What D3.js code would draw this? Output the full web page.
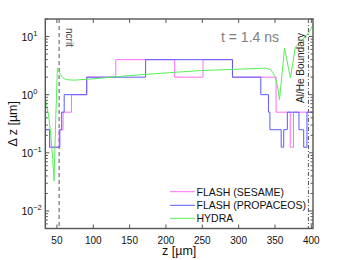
<!DOCTYPE html>
<html lang="en">
<head>
<meta charset="UTF-8">
<title>Delta z</title>
<script src="https://d3js.org/d3.v7.min.js"></script>
<style>
  body { margin: 0; background: #fff; }
  svg text { font-family: "Liberation Sans", Arial, sans-serif; }
</style>
</head>
<body>
<svg id="chart" width="346" height="260"></svg>
<script>
// tick values
var zTicks = [50, 100, 150, 200, 250, 300, 350, 400];
var dzTicks = [0.01, 0.1, 1, 10];
var dzTickExp = ["\u22122", "\u22121", "0", "1"];

// FLASH (SESAME) - step data, value holds until next z
var sesameZ  = [34, 40, 53, 58.5, 70, 91, 131, 212, 251, 291.5, 351.5, 371, 375.5, 402];
var sesameDz = [0.25, 0.125, 0.25, 0.5, 1, 2, 4, 2, 4, 2, 0.5, 0.125, 0.5, 0.5];

// FLASH (PROPACEOS)
var propZ  = [34, 40, 54, 56.5, 60, 91, 172, 291.5, 330.5, 341, 343, 358.5, 362, 367, 383, 389.5, 394, 402];
var propDz = [0.25, 0.125, 0.25, 0.5, 1, 2, 4, 2, 1, 0.5, 0.25, 0.125, 0.25, 0.5, 0.25, 0.125, 0.5, 0.5];

// HYDRA
var hydraZ  = [34, 36, 38.7, 41.5, 44.2, 46, 48.3, 50.7, 52, 53.5, 55.2, 57.5, 60, 65, 74.5, 95, 150, 205, 246.5, 301.5, 337.3, 344.2, 349.7, 353.1, 356.2, 363.1, 371.3, 377.9, 396.5, 402];
var hydraDz = [0.86, 0.65, 0.42, 0.21, 0.077, 0.033, 0.37, 2.88, 2.65, 2.4, 2.2, 2.0, 1.88, 1.8, 1.78, 1.85, 2.13, 2.39, 2.59, 2.75, 2.86, 2.69, 2.13, 1.49, 0.82, 6.3, 1.93, 6.5, 11.6, 15.9];

var series = [
  {name: "FLASH (SESAME)", z: sesameZ, dz: sesameDz, color: "#ff6dff", step: true},
  {name: "FLASH (PROPACEOS)", z: propZ, dz: propDz, color: "#5b5bff", step: true},
  {name: "HYDRA", z: hydraZ, dz: hydraDz, color: "#55ee55", step: false}
];

var ncritZ = 53, boundaryZ = 396;

var svg = d3.select("#chart");
var L = 45.3, R = 313, T = 19, B = 228.5;

var x = d3.scaleLinear().domain([34, 402.3]).range([L, R]);
var y = d3.scaleLog().domain([0.005, 20]).range([B, T]);

svg.append("clipPath").attr("id", "clip")
  .append("rect").attr("x", L).attr("y", T).attr("width", R - L).attr("height", B - T);

var plot = svg.append("g").attr("clip-path", "url(#clip)");

// reference lines
plot.append("line")
  .attr("x1", x(ncritZ)).attr("x2", x(ncritZ)).attr("y1", T).attr("y2", B)
  .attr("stroke", "#555").attr("stroke-width", 1).attr("stroke-dasharray", "4,3");
plot.append("line")
  .attr("x1", x(boundaryZ)).attr("x2", x(boundaryZ)).attr("y1", T).attr("y2", B)
  .attr("stroke", "#555").attr("stroke-width", 1).attr("stroke-dasharray", "4,2,1,2");

// curves
series.forEach(function(s) {
  var pts = s.z.map(function(z, i) { return [z, s.dz[i]]; });
  var line = d3.line()
    .x(function(d) { return x(d[0]); })
    .y(function(d) { return y(d[1]); })
    .curve(s.step ? d3.curveStepAfter : d3.curveLinear);
  plot.append("path").datum(pts)
    .attr("d", line)
    .attr("fill", "none")
    .attr("stroke", s.color)
    .attr("stroke-width", 1);
});

// axes box and ticks (matlab style, inward)
var axisColor = "#555";
var ax = svg.append("g");
ax.append("rect").attr("x", L).attr("y", T).attr("width", R - L).attr("height", B - T)
  .attr("fill", "none").attr("stroke", axisColor).attr("stroke-width", 1.4);

zTicks.forEach(function(t) {
  var px = x(t);
  ax.append("line").attr("x1", px).attr("x2", px).attr("y1", B).attr("y2", B - 4)
    .attr("stroke", axisColor);
  ax.append("line").attr("x1", px).attr("x2", px).attr("y1", T).attr("y2", T + 4)
    .attr("stroke", axisColor);
  ax.append("text").attr("x", px).attr("y", 243.5)
    .attr("text-anchor", "middle").attr("font-size", 10).attr("fill", "#111")
    .text(t);
});

// minor log ticks
var minor = [];
[0.001, 0.01, 0.1, 1, 10].forEach(function(dec) {
  for (var k = 2; k <= 9; k++) {
    var v = dec * k;
    if (v >= 0.005 && v <= 20) minor.push(v);
  }
});
minor.forEach(function(v) {
  var py = y(v);
  ax.append("line").attr("x1", L).attr("x2", L + 2.5).attr("y1", py).attr("y2", py).attr("stroke", axisColor);
  ax.append("line").attr("x1", R).attr("x2", R - 2.5).attr("y1", py).attr("y2", py).attr("stroke", axisColor);
});

dzTicks.forEach(function(v, i) {
  var py = y(v);
  ax.append("line").attr("x1", L).attr("x2", L + 4).attr("y1", py).attr("y2", py).attr("stroke", axisColor);
  ax.append("line").attr("x1", R).attr("x2", R - 4).attr("y1", py).attr("y2", py).attr("stroke", axisColor);
  var t = ax.append("text").attr("x", 21.5).attr("y", py + 4)
    .attr("font-size", 10.5).attr("fill", "#111");
  t.append("tspan").text("10");
  t.append("tspan").attr("dy", -5).attr("font-size", 7.5).text(dzTickExp[i]);
});

// axis labels
svg.append("text").attr("x", (L + R) / 2).attr("y", 255)
  .attr("text-anchor", "middle").attr("font-size", 12.5).attr("fill", "#111")
  .text("z [\u00b5m]");
svg.append("text")
  .attr("transform", "translate(17," + ((T + B) / 2) + ") rotate(-90)")
  .attr("text-anchor", "middle").attr("font-size", 12.5).attr("fill", "#111")
  .text("\u0394 z [\u00b5m]");

// annotations
svg.append("text").attr("transform", "translate(" + (x(ncritZ) + 6.5) + ",28) rotate(90)")
  .attr("font-size", 10).attr("fill", "#444").text("ncrit");
svg.append("text").attr("transform", "translate(" + (x(boundaryZ) - 4) + ",103) rotate(-90)")
  .attr("font-size", 10).attr("fill", "#222").text("Al/He Boundary");
svg.append("text").attr("x", 221).attr("y", 41.5)
  .attr("font-size", 14).attr("fill", "#808080").text("t = 1.4 ns");

// legend
var legY = [191.7, 205.3, 218.3];
series.forEach(function(s, i) {
  svg.append("line").attr("x1", 170).attr("x2", 195).attr("y1", legY[i]).attr("y2", legY[i])
    .attr("stroke", s.color).attr("stroke-width", 1);
  svg.append("text").attr("x", 196.5).attr("y", legY[i] + 3.8)
    .attr("font-size", 10.5).attr("fill", "#111").text(s.name);
});
</script>
</body>
</html>
